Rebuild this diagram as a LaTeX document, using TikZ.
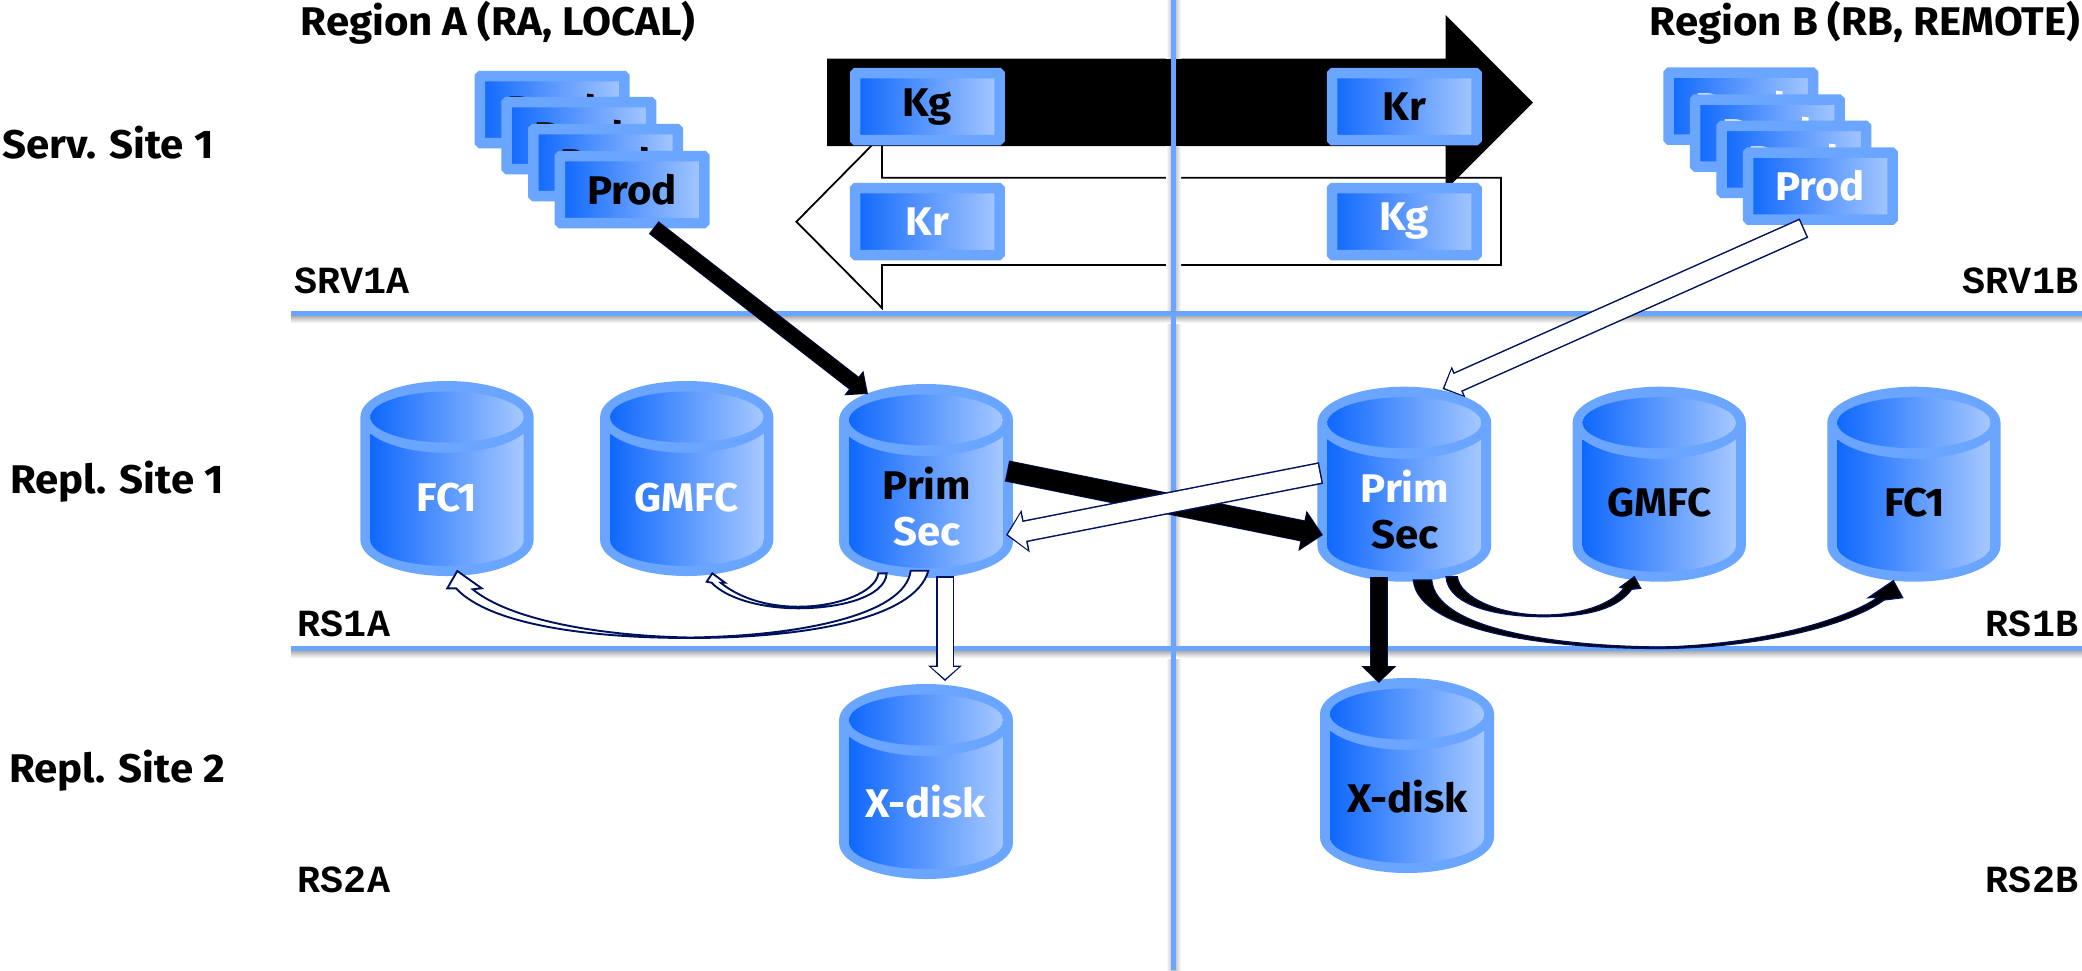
\documentclass[tikz,border=0pt]{standalone}
\usepackage{fontspec}
\usetikzlibrary{arrows.meta,calc}
\setmainfont[FakeStretch=1.05]{Fira Sans}
\newfontfamily\monof{Liberation Mono}
\definecolor{bdr}{HTML}{6AA5FF}
\definecolor{gl}{HTML}{0F68FD}
\definecolor{gr}{HTML}{A6C8FF}
\definecolor{ink}{HTML}{00115E}
\tikzset{
  lab/.style={font=\fontsize{40}{42}\selectfont\bfseries,inner sep=0pt,anchor=center},
  mono/.style={font=\monof\fontsize{38.4}{40}\selectfont\bfseries,inner sep=0pt,anchor=base},
  boxn/.style={lab,draw=bdr,line width=10.5pt,rounded corners=1pt,left color=gl,right color=gr,minimum width=144.5pt,minimum height=67pt},
  rule/.style={draw=bdr,line width=5pt},
  hollow/.style={draw=ink,line width=1.9pt,fill=white,line join=miter},
  solidc/.style={draw=ink,line width=1.2pt,fill=black,line join=miter},
}
% straight arrow: outline pass then fill pass
\newcommand\fatarrow[7]{%
  \pgfmathsetmacro\fo{#1}%
  \pgfmathsetmacro\fth{atan((#5/2)/#4)}%
  \pgfmathsetmacro\fs{\fo/sin(\fth)}%
  \pgfmathsetmacro\fL{#4-\fo-\fs}%
  \pgfmathsetmacro\fW{#5-2*\fo-2*\fo*tan(\fth)}%
  \pgfmathsetmacro\fw{#3+2*\fo}%
  \draw[ink,line width=\fw pt,-{Triangle[length=#4pt,width=#5pt]}] (#6) -- (#7);
  \draw[#2,line width=#3pt,shorten <=\fo pt,shorten >=\fs pt,-{Triangle[length=\fL pt,width=\fW pt]}] (#6) -- (#7);
}
% cylinder: name, cx, top, bottom, half width
\newcommand\dbcyl[5]{%
  \pgfmathsetmacro\cyt{#3+36}%
  \pgfmathsetmacro\cyb{#4-36}%
  \pgfmathsetmacro\cyi{#5-10}%
  \pgfmathsetmacro\cyol{#2-#5}%
  \pgfmathsetmacro\cyor{#2+#5}%
  \pgfmathsetmacro\cyil{#2-\cyi}%
  \pgfmathsetmacro\cyir{#2+\cyi}%
  \pgfmathsetmacro\cyang{acos(\cyi/#5)}%
  \pgfmathsetmacro\cysh{\cyt+36*sin(\cyang)}%
  \fill[bdr] (\cyol,\cyt) arc[start angle=180,end angle=360,x radius=#5,y radius=36] -- (\cyor,\cyb) arc[start angle=0,end angle=180,x radius=#5,y radius=36] -- cycle;
  \shade[left color=gl,right color=gr] (\cyil,\cysh) arc[start angle=180-\cyang,end angle=\cyang,x radius=#5,y radius=36] -- (\cyir,\cyb) arc[start angle=0,end angle=180,x radius=\cyi,y radius=26] -- cycle;
  \shade[left color=gl,right color=gr] (#2,\cyt) ellipse[x radius=\cyi,y radius=25.5];
  \node[minimum width=2*#5 pt,minimum height=#4-#3 pt,inner sep=0pt] (#1) at (#2,{(#3+#4)/2}) {};
}
\begin{document}
\begin{tikzpicture}[x=1pt,y=-1pt]
\useasboundingbox (0,0) rectangle (2082,970);
\fill[white] (0,0) rectangle (2082,970);
% large key arrows
\draw[draw=black,line width=1.8pt,fill=white,line join=miter] (882,177.7) -- (1501,177.7) -- (1501,265) -- (882,265) -- (882,308) -- (796.4,221.7) -- (882,135) -- cycle;
\fill[black] (827,58.7) -- (1445.6,58.7) -- (1445.6,15) -- (1533,102.7) -- (1445.6,190) -- (1445.6,146) -- (827,146) -- cycle;
% grid lines with soft shadows
\shade[left color=black!0,right color=black!30] (1166,0) rectangle (1173.5,970);
\shade[left color=black!30,right color=black!0] (1173.5,0) rectangle (1181,970);
\shade[top color=black!45,bottom color=black!0] (291,313) rectangle (2082,323);
\shade[top color=black!45,bottom color=black!0] (291,648) rectangle (2082,658);
\fill[black] (1160,58.7) rectangle (1190,146);
\coordinate (vt) at (1173.5,0);
\coordinate (vb) at (1173.5,970);
\coordinate (h1l) at (291,313.5);
\coordinate (h1r) at (2082,313.5);
\coordinate (h2l) at (291,648.5);
\coordinate (h2r) at (2082,648.5);
\draw[rule] (vt) -- (vb);
\draw[rule] (h1l) -- (h1r);
\draw[rule] (h2l) -- (h2r);
% key boxes
\node[boxn,text=black] (kga) at (927.3,106.7) {Kg};
\node[boxn,text=white] (kra) at (927.3,221.5) {Kr};
\node[boxn,text=black] (krb) at (1404.3,106.7) {Kr};
\node[boxn,text=white] (kgb) at (1404.3,221.5) {Kg};
% production stacks
\node[boxn] (pa1) at (552.1,109.5) {Prod};
\node[boxn] (pa2) at (578.9,135.5) {Prod};
\node[boxn] (pa3) at (605.5,162.5) {Prod};
\node[boxn] (pa4) at (632.1,189.5) {Prod};
\node[boxn,text=white] (pb1) at (1740.8,106.2) {Prod};
\node[boxn,text=white] (pb2) at (1767.3,133) {Prod};
\node[boxn,text=white] (pb3) at (1793.8,159.3) {Prod};
\node[boxn,text=white] (pb4) at (1820.3,186) {Prod};
% cylinders
\dbcyl{fca}{447}{381}{576}{86.6}
\dbcyl{gma}{686.7}{381}{576}{86.6}
\dbcyl{pra}{926}{384}{578}{86.9}
\dbcyl{xa}{926}{684}{879}{86.9}
\dbcyl{prb}{1404.3}{386.7}{581.7}{86.9}
\dbcyl{gmb}{1659.2}{386.7}{581.7}{86.6}
\dbcyl{fcb}{1913.9}{386.7}{581.7}{86.6}
\dbcyl{xb}{1407}{678}{873}{87}
\node[lab,text=white] at (447,498) (tfca) {FC1};
\node[lab,text=white] at (686.7,498) (tgma) {GMFC};
\node[lab,text=black,anchor=base] at (927,499) (tpa) {Prim};
\node[lab,text=white,anchor=base] at (927,545) (tsa) {Sec};
\node[lab,text=white] at (925.5,802) (txa) {X-disk};
\node[lab,text=white,anchor=base] at (1405,502) (tpb) {Prim};
\node[lab,text=black,anchor=base] at (1405,548) (tsb) {Sec};
\node[lab,text=black] at (1659.4,503) (tgmb) {GMFC};
\node[lab,text=black] at (1914.5,503) (tfcb) {FC1};
\node[lab,text=black] at (1407.6,797) (txb) {X-disk};
% connector ends
\coordinate (e1) at (653.7,227.5);
\coordinate (e2) at (868,394);
\coordinate (e3) at (1007,471);
\coordinate (e4) at (1323,535);
\coordinate (e5) at (1321,473);
\coordinate (e6) at (1006,535);
\coordinate (e7) at (1378.8,576.7);
\coordinate (e8) at (1378.8,683);
\coordinate (e9) at (945,576);
\coordinate (e10) at (945,681);
\coordinate (e11) at (1804,228);
\coordinate (e12) at (1442.5,389);
\fatarrow{.7}{black}{14.5}{18}{30}{e1}{e2}
\fatarrow{.7}{black}{20}{21}{40}{e3}{e4}
\fatarrow{1.5}{white}{19}{20}{42}{e5}{e6}
\fatarrow{.7}{black}{16}{17}{34}{e7}{e8}
\fatarrow{1.5}{white}{15}{15.5}{33}{e9}{e10}
\fatarrow{1.5}{white}{18}{17.6}{32.6}{e11}{e12}
% curved tapering connectors, region A
\draw[hollow] (886.7,573.3) .. controls (885,597) and (840,608.3) .. (798.3,608.3) .. controls (760,608.3) and (726,598) .. (711.7,582.7) -- (706.7,581.7) -- (712.3,573.3) -- (725,582.7) -- (720.7,582.7) .. controls (738,597) and (765,606.7) .. (798.3,606.7) .. controls (838,606.7) and (876,592) .. (878.3,573.3) -- cycle;
\draw[hollow] (928.3,570.7) .. controls (915,620) and (800,638) .. (690,638) .. controls (590,638) and (490,625) .. (456,588.3) -- (447.3,588.3) -- (457.3,571) -- (481.7,588.3) -- (472.7,589.3) .. controls (510,620) and (600,636) .. (690,637.5) .. controls (800,636) and (905,615) .. (910.7,570.7) -- cycle;
% curved tapering connectors, region B
\draw[solidc] (1446,576.7) .. controls (1448,605) and (1495,616.7) .. (1543.3,616.7) .. controls (1590,616.7) and (1618,608) .. (1631.7,589.3) -- (1640.7,588.3) -- (1634.3,576.7) -- (1620,587.3) -- (1624,588.3) .. controls (1610,605) and (1580,615) .. (1543.3,615) .. controls (1500,615) and (1460,598) .. (1457.3,576.7) -- cycle;
\draw[solidc] (1413.3,580) .. controls (1418,630) and (1540,648.5) .. (1660,648.5) .. controls (1760,648) and (1850,625) .. (1884,600) -- (1902.7,597.7) -- (1893.3,580.7) -- (1868.3,597.7) -- (1878,597.3) .. controls (1845,620) and (1760,645) .. (1660,647) .. controls (1550,646) and (1436,628) .. (1431.7,580) -- cycle;
% titles and labels
\node[lab] (ra) at (498,23) {Region A (RA, LOCAL)};
\node[lab] (rb) at (1865,23) {Region B (RB, REMOTE)};
\node[lab] (s1) at (108,143) {Serv. Site 1};
\node[lab] (s2) at (117,482) {Repl. Site 1};
\node[lab] (s3) at (117,771) {Repl. Site 2};
\node[mono] (m1) at (352,293) {SRV1A};
\node[mono] (m2) at (2020.5,293) {SRV1B};
\node[mono] (m3) at (344,636) {RS1A};
\node[mono] (m4) at (2032,636) {RS1B};
\node[mono] (m5) at (344,892) {RS2A};
\node[mono] (m6) at (2032,892) {RS2B};
\end{tikzpicture}
\end{document}
